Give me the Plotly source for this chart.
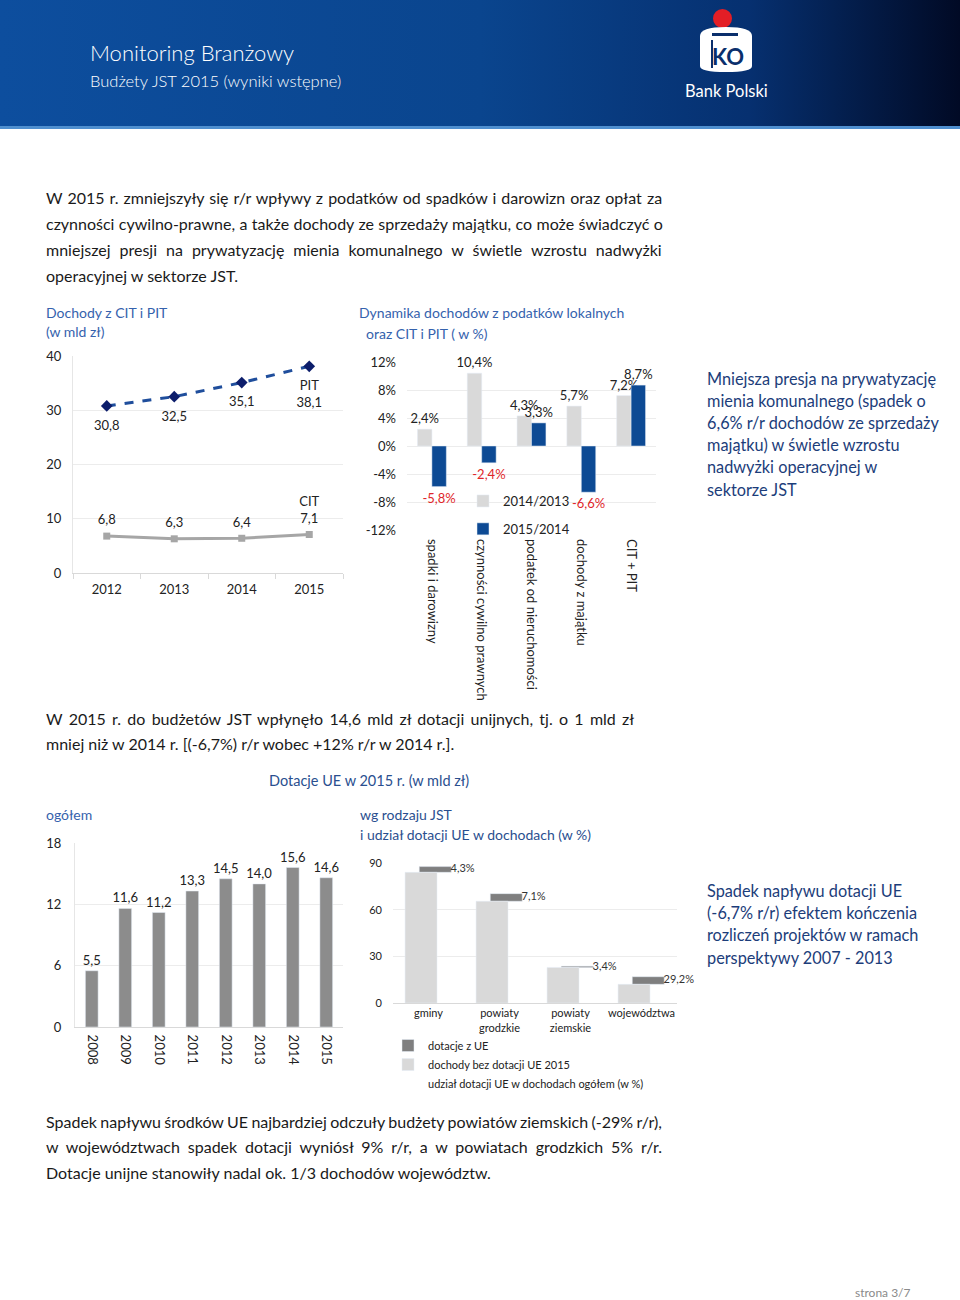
import plotly.graph_objects as go
import numpy as np

W, H = 960, 1300
FONT = "Lato, 'Open Sans', sans-serif"

# ---------------- data ----------------
years1 = ["2012", "2013", "2014", "2015"]
pit = [30.8, 32.5, 35.1, 38.1]
cit = [6.8, 6.3, 6.4, 7.1]
yticks1 = [0, 10, 20, 30, 40]

cats2 = ["spadki i darowizny", "czynności cywilno prawnych", "podatek od nieruchomości",
         "dochody z majątku", "CIT + PIT"]
dyn_1413 = [2.4, 10.4, 4.3, 5.7, 7.2]
dyn_1514 = [-5.8, -2.4, 3.3, -6.6, 8.7]
yticks2 = [-12, -8, -4, 0, 4, 8, 12]

years3 = ["2008", "2009", "2010", "2011", "2012", "2013", "2014", "2015"]
ue_total = [5.5, 11.6, 11.2, 13.3, 14.5, 14.0, 15.6, 14.6]
yticks3 = [0, 6, 12, 18]

cats4 = ["gminy", "powiaty<br>grodzkie", "powiaty<br>ziemskie", "województwa"]
bez_ue = [84.0, 65.4, 22.9, 12.0]
dot_ue = [3.7, 4.9, 0.8, 4.9]
udzial = [4.3, 7.1, 3.4, 29.2]
yticks4 = [0, 30, 60, 90]

# body text lines with extra word spacing (px) to mimic justified text
body1 = [("W 2015 r. zmniejszyły się r/r wpływy z podatków od spadków i darowizn oraz opłat za", 0.95),
         ("czynności cywilno-prawne, a także dochody ze sprzedaży majątku, co może świadczyć o", 0.3),
         ("mniejszej presji na prywatyzację mienia komunalnego w świetle wzrostu nadwyżki", 4.9),
         ("operacyjnej w sektorze JST.", 0)]
body2 = [("W 2015 r. do budżetów JST wpłynęło 14,6 mld zł dotacji unijnych, tj. o 1 mld zł", 2.2),
         ("mniej niż w 2014 r. [(-6,7%) r/r wobec +12% r/r w 2014 r.].", 0)]
body3 = [("Spadek napływu środków UE najbardziej odczuły budżety powiatów ziemskich (-29% r/r),", -0.7),
         ("w województwach spadek dotacji wyniósł 9% r/r, a w powiatach grodzkich 5% r/r.", 3.75),
         ("Dotacje unijne stanowiły nadal ok. 1/3 dochodów województw.", 0)]
note1 = ["Mniejsza presja na prywatyzację", "mienia komunalnego (spadek o",
         "6,6% r/r dochodów ze sprzedaży", "majątku) w świetle wzrostu",
         "nadwyżki operacyjnej w", "sektorze JST"]
note2 = ["Spadek napływu dotacji UE", "(-6,7% r/r) efektem kończenia",
         "rozliczeń projektów w ramach", "perspektywy 2007 - 2013"]


def fmt(v, nd=1):
    return f"{v:.{nd}f}".replace(".", ",")


def dxp(a, b):
    return [a / W, b / W]


def dyp(top, bottom):
    return [1 - bottom / H, 1 - top / H]


fig = go.Figure()

# ---------------- page axes / header gradient ----------------
fig.add_trace(go.Scatter(
    x=[0, W, W, 0, 0], y=[0, 0, 127, 127, 0], mode="lines", line=dict(width=0),
    fill="toself",
    fillgradient=dict(type="horizontal",
                      colorscale=[[0, "#0d4e9e"], [0.5, "#0a458e"], [0.78, "#063070"], [1, "#010a25"]]),
    xaxis="x5", yaxis="y5", showlegend=False, hoverinfo="skip"))

# ---------------- chart 1 ----------------
CHART_TXT = dict(family=FONT, size=13, color="#222222")
fig.add_trace(go.Scatter(
    x=years1, y=pit, mode="lines+markers",
    line=dict(color="#1f4e9c", width=3, dash="dash"),
    marker=dict(symbol="diamond", size=9, color="#0c1d6b"),
    xaxis="x", yaxis="y", showlegend=False, cliponaxis=False))
fig.add_trace(go.Scatter(
    x=years1, y=pit, mode="markers+text", marker=dict(size=21, color="rgba(0,0,0,0)"),
    text=[fmt(v) for v in pit[:-1]] + ["PIT<br>" + fmt(pit[-1])],
    textposition="bottom center", textfont=CHART_TXT,
    xaxis="x", yaxis="y", showlegend=False, cliponaxis=False))
fig.add_trace(go.Scatter(
    x=years1, y=cit, mode="lines+markers",
    line=dict(color="#a6a6a6", width=3),
    marker=dict(symbol="square", size=7, color="#a6a6a6"),
    xaxis="x", yaxis="y", showlegend=False, cliponaxis=False))
fig.add_trace(go.Scatter(
    x=years1, y=cit, mode="markers+text", marker=dict(size=12, color="rgba(0,0,0,0)"),
    text=[fmt(v) for v in cit[:-1]] + ["CIT<br>" + fmt(cit[-1])],
    textposition="top center", textfont=CHART_TXT,
    xaxis="x", yaxis="y", showlegend=False, cliponaxis=False))

# ---------------- chart 2 ----------------
fig.add_trace(go.Bar(
    x=cats2, y=dyn_1413, name="2014/2013", marker_color="#d9d9d9",
    texttemplate="%{y:.1f}%", textposition="outside", textfont=CHART_TXT,
    constraintext="none", cliponaxis=False, xaxis="x2", yaxis="y2",
    legend="legend", legendgroup="a"))
fig.add_trace(go.Bar(
    x=cats2, y=dyn_1514, name="2015/2014", marker_color="#0d4a94",
    texttemplate="%{y:.1f}%", textposition="outside",
    textfont=dict(family=FONT, size=13, color=["#e0262a" if v < 0 else "#222222" for v in dyn_1514]),
    constraintext="none", cliponaxis=False, xaxis="x2", yaxis="y2",
    legend="legend", legendgroup="b"))

# ---------------- chart 3 ----------------
fig.add_trace(go.Bar(
    x=years3, y=ue_total, marker_color="#8c8c8c", width=0.38,
    texttemplate="%{y:.1f}", textposition="outside", textfont=CHART_TXT,
    constraintext="none", cliponaxis=False, xaxis="x3", yaxis="y3", showlegend=False))

# ---------------- chart 4 ----------------
pos4 = np.arange(len(cats4))
fig.add_trace(go.Bar(
    x=pos4, y=dot_ue, base=bez_ue, name="dotacje z UE", marker_color="#7f7f7f",
    width=0.45, offset=-0.13, xaxis="x4", yaxis="y4", legend="legend2", legendgroup="c"))
fig.add_trace(go.Bar(
    x=pos4, y=bez_ue, name="dochody bez dotacji UE 2015", marker_color="#d9d9d9",
    width=0.45, offset=-0.33, xaxis="x4", yaxis="y4", legend="legend2", legendgroup="d"))
fig.add_trace(go.Scatter(
    x=pos4 + 0.31, y=np.array(bez_ue) + np.array(dot_ue) / 2, mode="text",
    text=[fmt(v) + "%" for v in udzial], textposition="middle right",
    textfont=dict(family=FONT, size=11, color="#333333"), cliponaxis=False,
    xaxis="x4", yaxis="y4", showlegend=False))
fig.add_trace(go.Scatter(
    x=[None], y=[None], mode="markers", name="udział dotacji UE w dochodach ogółem (w %)",
    marker=dict(color="rgba(0,0,0,0)", size=1), xaxis="x4", yaxis="y4",
    legend="legend2", legendgroup="e"))

# ---------------- axes ----------------
GRID = "#ececec"
TICKF = dict(family=FONT, size=13, color="#222222")
ax = dict(automargin=False, fixedrange=True)

layout = dict(
    width=W, height=H, margin=dict(l=0, r=0, t=0, b=0),
    paper_bgcolor="white", plot_bgcolor="rgba(0,0,0,0)",
    separators=", ", barmode="group", bargap=0.42, bargroupgap=0,
    font=dict(family=FONT, color="#222222"),
    xaxis=dict(ax, domain=dxp(73, 343), anchor="y", type="category", range=[-0.5, 3.5],
               showgrid=False, showline=True, linecolor="#d9d9d9", ticks="outside",
               tickson="boundaries", ticklen=5, tickcolor="#d9d9d9", tickfont=TICKF,
               ticklabelstandoff=4),
    yaxis=dict(ax, domain=dyp(356, 573), anchor="x", range=[0, 40], tickvals=yticks1,
               showgrid=True, gridcolor=GRID, zeroline=False, showline=True, linecolor="#e6e6e6",
               tickfont=TICKF, ticklabelstandoff=8),
    xaxis2=dict(ax, domain=dxp(407, 656), anchor="y2", type="category", range=[-0.5, 4.5],
                showgrid=False, showline=False, tickangle=90, tickfont=TICKF, ticklabelstandoff=8),
    yaxis2=dict(ax, domain=dyp(362, 530), anchor="x2", range=[-12, 12], tickvals=yticks2,
                ticktext=[f"{v}%" for v in yticks2], showgrid=True, gridcolor=GRID,
                zeroline=True, zerolinecolor=GRID, zerolinewidth=1, tickfont=TICKF,
                ticklabelstandoff=10),
    xaxis3=dict(ax, domain=dxp(75, 343), anchor="y3", type="category", range=[-0.5, 7.5],
                showgrid=False, showline=True, linecolor="#d9d9d9", tickangle=90, tickfont=TICKF,
                ticklabelstandoff=4),
    yaxis3=dict(ax, domain=dyp(843, 1027), anchor="x3", range=[0, 18], tickvals=yticks3,
                showgrid=True, gridcolor=GRID, zeroline=False, showline=True, linecolor="#e6e6e6",
                tickfont=TICKF, ticklabelstandoff=10),
    xaxis4=dict(ax, domain=dxp(393, 677), anchor="y4", range=[-0.5, 3.5], tickvals=list(pos4),
                ticktext=cats4, showgrid=False, showline=True, linecolor="#d9d9d9",
                tickfont=dict(family=FONT, size=11, color="#222222")),
    yaxis4=dict(ax, domain=dyp(863, 1003), anchor="x4", range=[0, 90], tickvals=yticks4,
                showgrid=True, gridcolor=GRID, zeroline=False,
                tickfont=dict(family=FONT, size=11, color="#222222"), ticklabelstandoff=10),
    xaxis5=dict(domain=[0, 1], range=[0, W], visible=False, fixedrange=True, anchor="y5"),
    yaxis5=dict(domain=[0, 1], range=[H, 0], visible=False, fixedrange=True, anchor="x5"),
    legend=dict(x=463 / W, y=1 - 486 / H, xanchor="left", yanchor="top", bgcolor="rgba(0,0,0,0)",
                font=dict(family=FONT, size=13, color="#222222"), traceorder="grouped",
                tracegroupgap=8, itemwidth=30),
    legend2=dict(x=388 / W, y=1 - 1031 / H, xanchor="left", yanchor="top", bgcolor="rgba(0,0,0,0)",
                 font=dict(family=FONT, size=11, color="#222222"), traceorder="grouped",
                 tracegroupgap=0, itemwidth=30),
)

annotations = []


def txt(x, y, s, size=16, color="#1a1a1a", xanchor="left", weight=None):
    f = dict(family=FONT, size=size, color=color)
    if weight:
        f["weight"] = weight
    annotations.append(dict(x=x / W, y=1 - y / H, xref="paper", yref="paper", text=s,
                            showarrow=False, xanchor=xanchor, yanchor="middle", font=f))


# header
txt(88, 52, "Monitoring Branżowy", size=22, color="white", weight=300)
txt(88, 81, "Budżety JST 2015 (wyniki wstępne)", size=16.5, color="white", weight=300)
txt(726, 91, "Bank Polski", size=16.5, color="white", xanchor="center")
txt(728, 56, "<b>KO</b>", size=22, color="#0a2f6c", xanchor="center")


def para(lines, x, y0, dy, **kw):
    for i, (s, ws) in enumerate(lines):
        if ws:
            s = f'<span style="word-spacing:{ws}px">{s}</span>'
        txt(x, y0 + i * dy, s, **kw)


para(body1, 44, 198, 25.7)
para(body2, 44, 718, 25.5)
para(body3, 44, 1121, 25.5)

NAVY = "#1c3d7a"
for i, s in enumerate(note1):
    txt(705, 378 + i * 22.2, s, size=16.3, color=NAVY)
for i, s in enumerate(note2):
    txt(705, 890 + i * 22.4, s, size=16.3, color=NAVY)

TBLUE = "#3562ad"
txt(44, 313, "Dochody z CIT i PIT", size=14, color=TBLUE)
txt(44, 331, "(w mld zł)", size=14, color=TBLUE)
txt(357, 313, "Dynamika dochodów z podatków lokalnych", size=14, color=TBLUE)
txt(364, 333, "oraz CIT i PIT ( w %)", size=14, color=TBLUE)
txt(369, 781, "Dotacje UE w 2015 r. (w mld zł)", size=14.5, color="#2a4f8f", xanchor="center")
txt(44, 814, "ogółem", size=14, color=TBLUE)
txt(358, 814, "wg rodzaju JST", size=14, color="#2a4f8f")
txt(358, 834, "i udział dotacji UE w dochodach (w %)", size=14, color="#2a4f8f")
txt(913, 1292, "strona 3/7", size=12, color="#8a8a8a", xanchor="right")

shapes = [
    dict(type="rect", xref="paper", yref="paper", x0=0, x1=1, y0=1 - 129 / H, y1=1 - 126 / H,
         fillcolor="#4f8fcf", line=dict(width=0), layer="above"),
    # logo
    dict(type="circle", xref="paper", yref="paper", x0=713 / W, x1=732 / W,
         y0=1 - 28 / H, y1=1 - 9 / H, fillcolor="#e31e26", line=dict(width=0)),
    dict(type="path", xref="paper", yref="paper",
         path=f"M {700/W},{1-36/H} Q {700/W},{1-27/H} {726/W},{1-27/H} Q {752/W},{1-27/H} {752/W},{1-36/H} "
              f"L {752/W},{1-66/H} Q {752/W},{1-72/H} {726/W},{1-72/H} Q {700/W},{1-72/H} {700/W},{1-66/H} Z",
         fillcolor="white", line=dict(width=0)),
    dict(type="path", xref="paper", yref="paper",
         path=f"M {712/W},{1-33/H} L {738/W},{1-33/H} L {738/W},{1-36/H} L {712/W},{1-36/H} Z",
         fillcolor="#0a2f6c", line=dict(width=0)),
    dict(type="line", xref="paper", yref="paper", x0=712 / W, x1=712 / W, y0=1 - 40 / H, y1=1 - 68 / H,
         line=dict(color="#0a2f6c", width=2)),
]

layout["annotations"] = annotations
layout["shapes"] = shapes
fig.update_layout(**layout)

fig.write_html("out.html", config={"staticPlot": True},
               post_script="document.body.style.margin='0';document.body.style.overflow='hidden';")
